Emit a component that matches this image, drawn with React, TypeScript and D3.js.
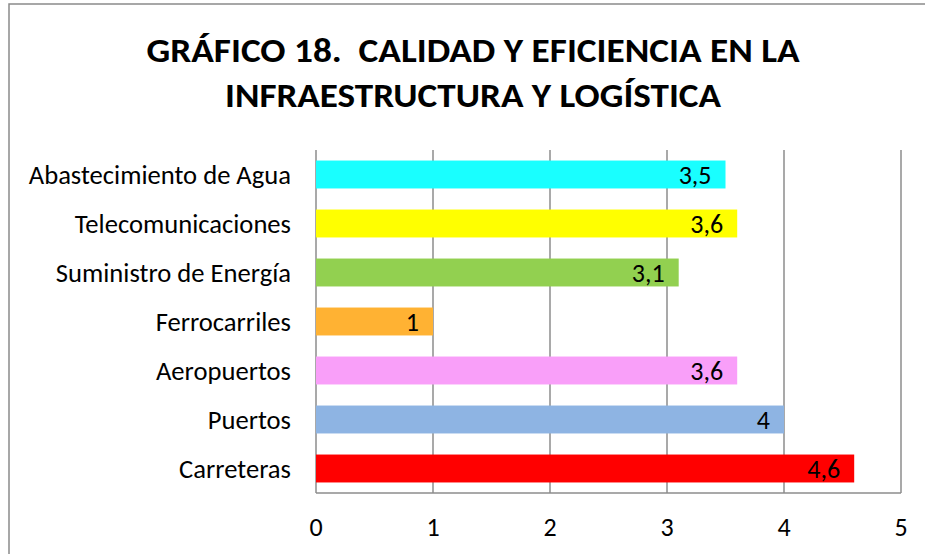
import React from "react";
import * as d3 from "d3";

const categories = [
  "Abastecimiento de Agua",
  "Telecomunicaciones",
  "Suministro de Energía",
  "Ferrocarriles",
  "Aeropuertos",
  "Puertos",
  "Carreteras",
];
const values = [3.5, 3.6, 3.1, 1, 3.6, 4, 4.6];
const barColors = ["#19FFFF", "#FFFF00", "#92D050", "#FFB233", "#F99FF9", "#8EB4E3", "#FF0000"];
const xTicks = [0, 1, 2, 3, 4, 5];
const titleLines = ["GRÁFICO 18.  CALIDAD Y EFICIENCIA EN LA", "INFRAESTRUCTURA Y LOGÍSTICA"];

const W = 925;
const H = 554;
const plot = { left: 316, right: 901, top: 150, bottom: 493 };
const font = "Carlito, Calibri, Lato, sans-serif";

export default function App() {
  const x = d3.scaleLinear().domain([0, 5]).range([plot.left, plot.right]);
  const y = d3
    .scaleBand<string>()
    .domain(categories)
    .range([plot.top, plot.bottom])
    .paddingInner(0.43)
    .paddingOuter(0.215);
  const fmt = (v: number) => String(v).replace(".", ",");

  return (
    <svg
      width={W}
      height={H}
      style={{ position: "absolute", left: 0, top: 0, background: "#fff" }}
      fontFamily={font}
    >
      <rect x={0} y={0} width={W} height={H} fill="#fff" />
      <rect x={9} y={4} width={W + 20} height={H + 20} fill="none" stroke="#8a8a8a" strokeWidth={1.5} />
      <text textAnchor="middle" fontWeight="bold" fontSize={34} fill="#000" style={{ whiteSpace: "pre" }}>
        <tspan x={473} y={62} textLength={653} lengthAdjust="spacingAndGlyphs">{titleLines[0]}</tspan>
        <tspan x={473} y={107} textLength={496} lengthAdjust="spacingAndGlyphs">{titleLines[1]}</tspan>
      </text>
      {xTicks.map((t) => (
        <line key={"g" + t} x1={x(t)} x2={x(t)} y1={plot.top} y2={plot.bottom} stroke="#8c8c8c" strokeWidth={1.5} />
      ))}
      <line x1={plot.left} x2={plot.right} y1={plot.bottom} y2={plot.bottom} stroke="#8c8c8c" strokeWidth={1.5} />
      {categories.map((c, i) => (
        <g key={c}>
          <rect x={x(0)} y={y(c)!} width={x(values[i]) - x(0)} height={y.bandwidth()} fill={barColors[i]} />
          <text
            x={x(values[i]) - 14}
            y={y(c)! + y.bandwidth() / 2 + 9}
            textAnchor="end"
            fontSize={26}
            fill="#000"
          >
            {fmt(values[i])}
          </text>
          <text x={291} y={y(c)! + y.bandwidth() / 2 + 9} textAnchor="end" fontSize={26.6} fill="#000">
            {c}
          </text>
        </g>
      ))}
      {xTicks.map((t) => (
        <text key={"t" + t} x={x(t)} y={536} textAnchor="middle" fontSize={26} fill="#000">
          {t}
        </text>
      ))}
    </svg>
  );
}
